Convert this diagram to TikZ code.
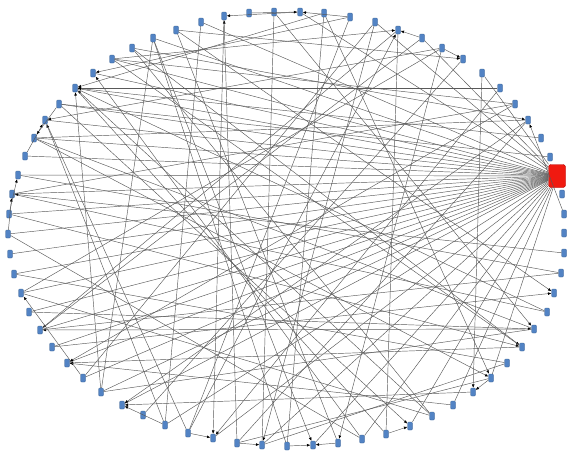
\documentclass[tikz,border=0pt]{standalone}
\usetikzlibrary{arrows.meta}
\definecolor{vblue}{HTML}{5283C4}
\definecolor{vrim}{HTML}{385D8A}
\definecolor{hubred}{HTML}{F01A10}
\tikzset{
  vtx/.style     = {draw=vrim, fill=vblue, rounded corners=1pt, inner sep=0pt,
                    minimum width=5pt, minimum height=8pt, line width=0.3pt},
  hub/.style     = {draw=red!70!black, fill=hubred, rounded corners=2.5pt,
                    inner sep=0pt, minimum width=17pt, minimum height=23pt},
  link/.style    = {draw=black!65, line width=0.45pt},
  dirlink/.style = {link, -{Latex[length=3.4pt, width=2.8pt, color=black]}},
}

\begin{document}
\begin{tikzpicture}[x=1pt, y=-1pt]
  \useasboundingbox (0,0) rectangle (567,450);

  % vertices round the ellipse, n0 is the hub
  \node[hub] (n0) at (557,176) {};
  \foreach \i/\x/\y in {1/550/157, 2/541/138, 3/528/120, 4/515/104, 5/500/88,
      6/482/73, 7/463/59, 8/442/48, 9/422/38, 10/398/30, 11/375/22, 12/350/17,
      13/324/13, 14/300/12, 15/274/12, 16/249/13, 17/224/16, 18/201/22,
      19/176/30, 20/153/38, 21/132/48, 22/112/59, 23/93/73, 24/75/88,
      25/59/104, 26/45/120, 27/34/138, 28/25/156, 29/18/175, 30/12/194,
      31/9/214, 32/8/234, 33/10/254, 34/14/274, 35/21/293, 36/29/312,
      37/40/330, 38/52/347, 39/67/363, 40/83/378, 41/101/392, 42/122/405,
      43/143/415, 44/165/425, 45/188/433, 46/213/438, 47/237/443, 48/262/445,
      49/287/446, 50/313/445, 51/338/443, 52/362/439, 53/386/434, 54/410/426,
      55/432/416, 56/453/405, 57/473/392, 58/491/378, 59/507/363, 60/522/347,
      61/534/329, 62/547/312, 63/554/293, 64/561/273, 65/564/253, 66/564/233,
      67/564/214, 68/562/194}
    \node[vtx] (n\i) at (\x,\y) {};

  % hub fan
  \foreach \b in {6,9,11,14,18,20,22,23,24,25,26,27,28,29,30,31,32,33,34,35,
      36,37,38,39,40,41,42,44,46,48,50,52,54,56,58}
    \draw[link] (n0) -- (n\b);

  % directed links
  \foreach \a/\b in {2/24, 5/24, 13/24, 41/24, 55/24, 8/26, 44/26, 28/26,
      12/23, 52/23, 14/17, 47/17, 16/14, 12/14, 9/10, 22/10, 45/10, 8/7,
      19/7, 67/3, 21/3, 60/39, 4/39, 56/39, 61/37, 10/37, 44/42, 57/42,
      3/42, 45/46, 17/46, 5/46, 47/48, 11/48, 51/50, 49/50, 20/50, 8/51,
      53/54, 25/54, 58/57, 6/57, 13/58, 27/58, 21/60, 31/60, 36/61, 15/61,
      19/63, 38/63, 32/30, 65/30, 31/29, 40/35, 25/27}
    \draw[dirlink] (n\a) -- (n\b);

  % plain links
  \foreach \a/\b in {1/25, 4/22, 3/27, 7/43, 9/37, 11/40, 13/49, 15/48,
      18/44, 19/51, 20/41, 21/55, 22/60, 24/62, 24/53, 26/45, 27/61, 29/64,
      30/62, 32/52, 34/59, 35/55, 37/64, 41/61, 47/58, 48/59, 20/49, 10/53,
      3/47, 8/35, 4/30, 12/45}
    \draw[link] (n\a) -- (n\b);
\end{tikzpicture}
\end{document}
